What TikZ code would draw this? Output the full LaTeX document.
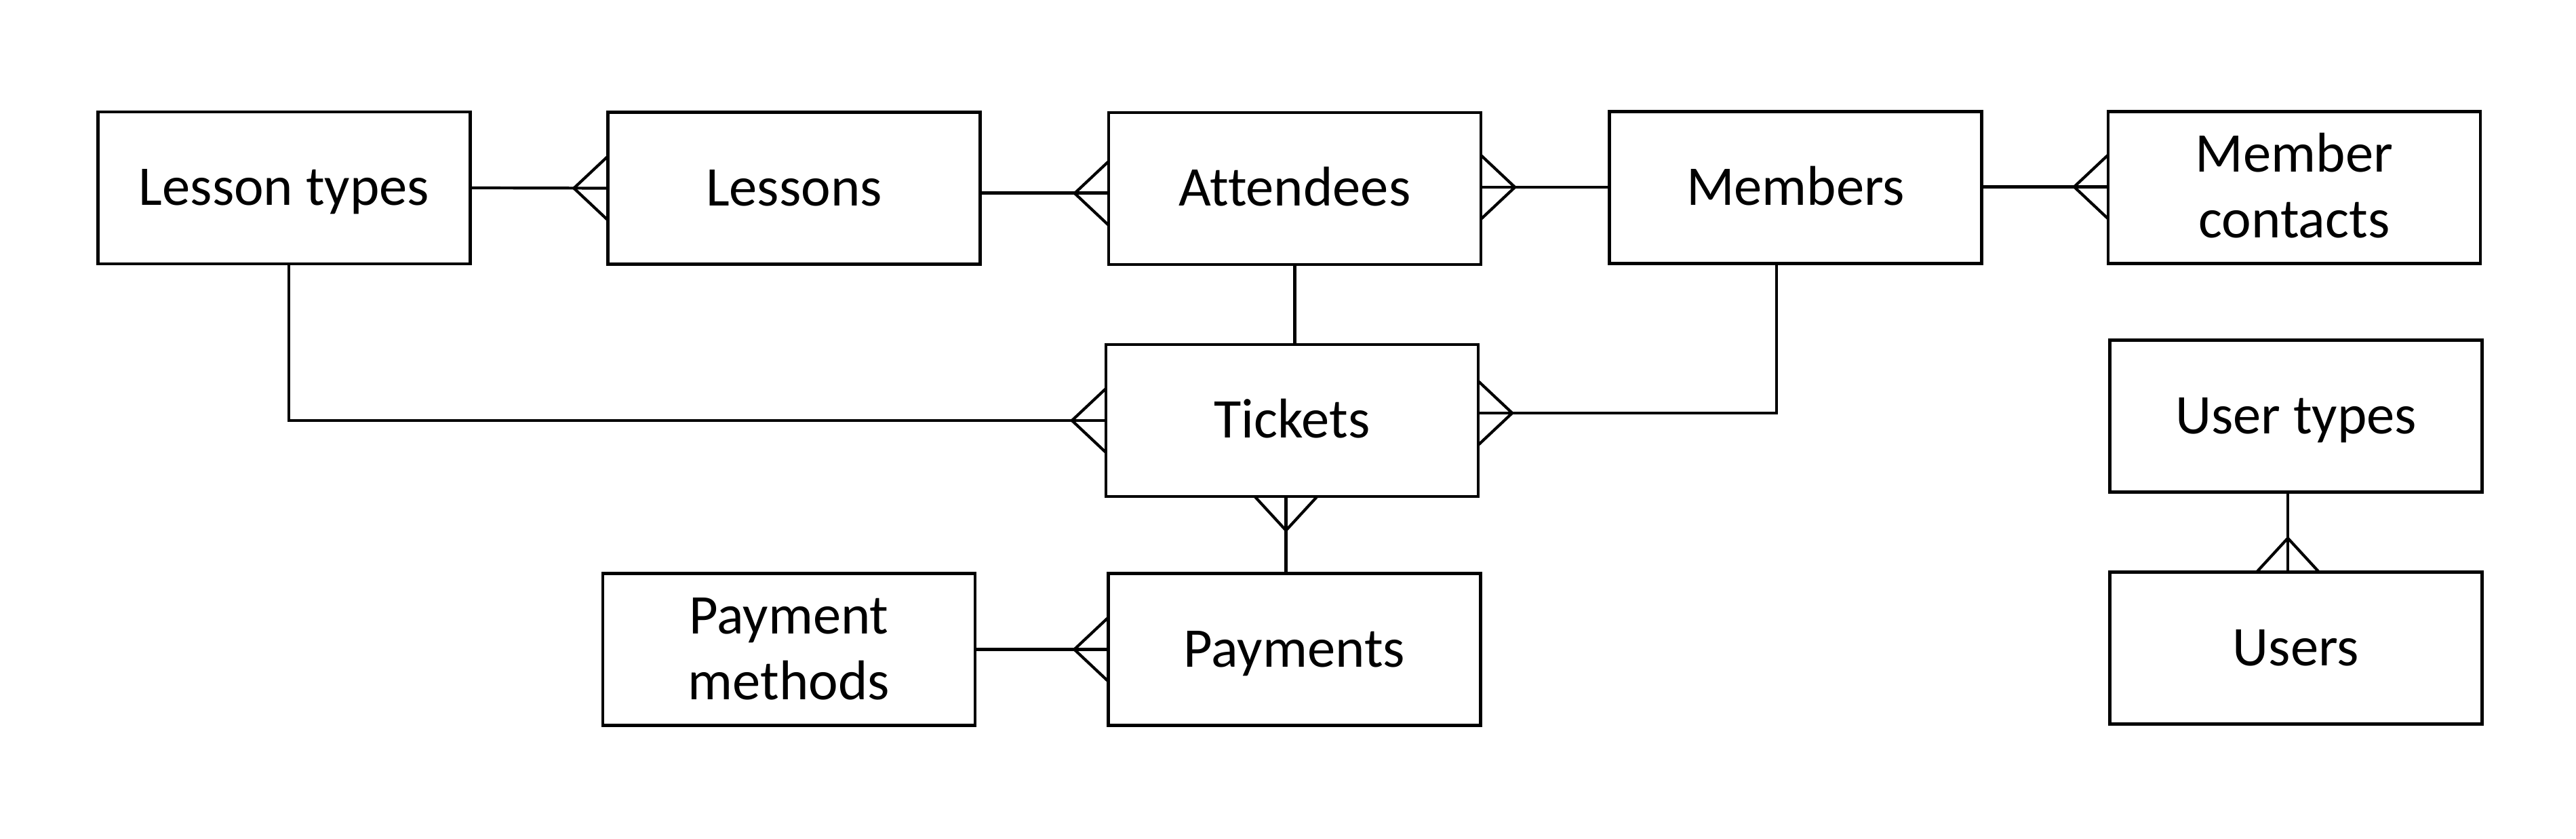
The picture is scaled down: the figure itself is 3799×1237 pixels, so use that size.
\documentclass[tikz,border=0pt]{standalone}
\usepackage{fontspec}
\setmainfont{Carlito}[Ligatures=NoCommon]
\usetikzlibrary{calc}
\tikzset{
  ent/.style={draw, line width=0.045cm, minimum width=5.49cm, minimum height=2.24cm,
    inner sep=0pt, outer sep=0pt, font=\fontsize{23.5}{27.6}\selectfont,
    text height=14.6pt, text depth=0pt, align=center},
  ent2/.style={ent, text height=42.2pt, text depth=0pt},
  conn/.style={line width=0.042cm},
}
\newcommand\cfW[2]{\draw[conn] ($(#1.west)+(0,#2)+(0,-47)$) -- ($(#1.west)+(-50,#2)$) -- ($(#1.west)+(0,#2)+(0,47)$);}
\newcommand\cfE[2]{\draw[conn] ($(#1.east)+(0,#2)+(0,-47)$) -- ($(#1.east)+(50,#2)$) -- ($(#1.east)+(0,#2)+(0,47)$);}
\newcommand\cfS[2]{\draw[conn] ($(#1.south)+(#2,0)+(-46,0)$) -- ($(#1.south)+(#2,50)$) -- ($(#1.south)+(#2,0)+(46,0)$);}
\newcommand\cfN[2]{\draw[conn] ($(#1.north)+(#2,0)+(-46,0)$) -- ($(#1.north)+(#2,-50)$) -- ($(#1.north)+(#2,0)+(46,0)$);}
\begin{document}
\begin{tikzpicture}[x=0.01cm,y=-0.01cm]
\useasboundingbox (0,0) rectangle (3799,1237);
\node[ent] (lt) at (419,277) {Lesson types};
\node[ent] (ls) at (1171,277.5) {Lessons};
\node[ent] (at) at (1909.5,278) {Attendees};
\node[ent] (mb) at (2648,276.5) {Members};
\node[ent2] (mc) at (3383.5,276.5) {Member\\contacts};
\node[ent] (tk) at (1905.5,620) {Tickets};
\node[ent] (ut) at (3386,613.5) {User types};
\node[ent2] (pm) at (1163.5,957.5) {Payment\\methods};
\node[ent] (py) at (1909,957.5) {Payments};
\node[ent] (us) at (3386,955.5) {Users};
% Lesson types - Lessons
\draw[conn] (lt.east) -- (ls.west);
\cfW{ls}{0}
% Lessons - Attendees
\coordinate (p0) at ($(ls.east)+(0,7)$);
\draw[conn] (p0) -- (p0 -| at.west);
\cfW{at}{7}
% Attendees - Members
\coordinate (p1) at ($(at.east)+(0,-2)$);
\draw[conn] (p1) -- (p1 -| mb.west);
\cfE{at}{-2}
% Members - Member contacts
\coordinate (p2) at ($(mb.east)+(0,-1)$);
\draw[conn] (p2) -- (p2 -| mc.west);
\cfW{mc}{-1}
% Attendees - Tickets
\draw[conn] (at.south) -- (at.south |- tk.north);
% Lesson types - Tickets
\coordinate (p3) at ($(lt.south)+(7,0)$);
\draw[conn] (p3) |- (tk.west);
\cfW{tk}{0}
% Members - Tickets
\coordinate (p4) at ($(mb.south)+(-28,0)$);
\coordinate (p5) at ($(tk.east)+(0,-11)$);
\draw[conn] (p4) |- (p5);
\cfE{tk}{-11}
% Tickets - Payments
\coordinate (p6) at ($(tk.south)+(-9,0)$);
\draw[conn] (p6) -- (p6 |- py.north);
\cfS{tk}{-9}
% Payment methods - Payments
\draw[conn] (pm.east) -- (py.west);
\cfW{py}{0}
% User types - Users
\coordinate (p7) at ($(ut.south)+(-12,0)$);
\draw[conn] (p7) -- (p7 |- us.north);
\cfN{us}{-12}
\end{tikzpicture}
\end{document}
